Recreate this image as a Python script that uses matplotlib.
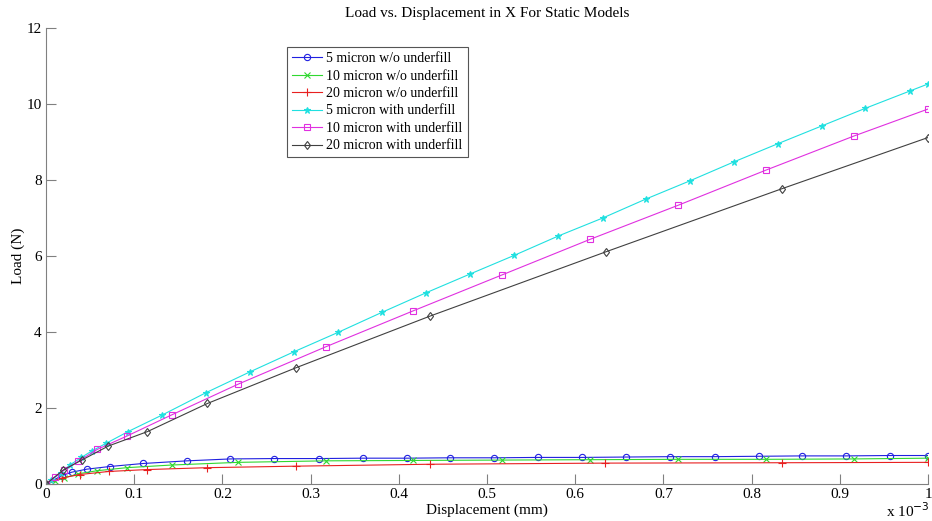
import matplotlib
matplotlib.use('Agg')
import matplotlib.pyplot as plt

plt.rcParams['font.family'] = ['Liberation Serif', 'DejaVu Serif']

# displacement values in units of 1e-3 mm, loads in N
x_5_wo = [0, 0.018, 0.029, 0.046, 0.072, 0.110, 0.160, 0.209, 0.258, 0.309, 0.359,
          0.409, 0.458, 0.508, 0.558, 0.608, 0.658, 0.708, 0.758, 0.808, 0.857,
          0.907, 0.957, 1.0]
load_5_wo = [0, 0.22, 0.31, 0.39, 0.46, 0.54, 0.61, 0.66, 0.67, 0.67, 0.68,
             0.68, 0.69, 0.69, 0.70, 0.70, 0.71, 0.72, 0.72, 0.73, 0.74,
             0.74, 0.75, 0.75]

x_10_wo = [0, 0.0102, 0.0208, 0.0367, 0.058, 0.0915, 0.1425, 0.218, 0.317, 0.4165,
           0.5166, 0.6168, 0.717, 0.816, 0.916, 1.0]
load_10_wo = [0, 0.08, 0.16, 0.27, 0.35, 0.43, 0.50, 0.57, 0.61, 0.62,
              0.63, 0.64, 0.65, 0.65, 0.66, 0.68]

x_20_wo = [0, 0.018, 0.0385, 0.071, 0.114, 0.183, 0.2835, 0.435, 0.634, 0.834, 1.0]
load_20_wo = [0, 0.16, 0.25, 0.33, 0.38, 0.43, 0.47, 0.52, 0.55, 0.56, 0.57]

x_5_with = [0, 0.006, 0.017, 0.027, 0.040, 0.052, 0.068, 0.093, 0.132, 0.181, 0.231,
            0.281, 0.331, 0.381, 0.4305, 0.481, 0.531, 0.581, 0.631, 0.680, 0.730,
            0.780, 0.830, 0.880, 0.929, 0.980, 1.0]
load_5_with = [0, 0.10, 0.30, 0.50, 0.70, 0.87, 1.07, 1.38, 1.82, 2.40, 2.95,
               3.48, 3.99, 4.52, 5.03, 5.53, 6.02, 6.53, 7.00, 7.50, 7.98,
               8.48, 8.96, 9.43, 9.89, 10.35, 10.53]

x_10_with = x_10_wo
load_10_with = [0, 0.19, 0.37, 0.60, 0.91, 1.26, 1.82, 2.63, 3.61, 4.56,
                5.50, 6.44, 7.34, 8.26, 9.16, 9.87]

x_20_with = [0, 0.0197, 0.0405, 0.0707, 0.115, 0.183, 0.2834, 0.4354, 0.6345, 0.834, 1.0]
load_20_with = [0, 0.37, 0.63, 1.00, 1.38, 2.12, 3.06, 4.42, 6.11, 7.77, 9.12]

fig = plt.figure(figsize=(9.32, 5.21), dpi=100)
ax = fig.add_axes([0.0494, 0.071, 0.9463, 0.875])

series = [
    (x_5_wo, load_5_wo, '#2020e0', 'o', 4.5, '5 micron w/o underfill'),
    (x_10_wo, load_10_wo, '#30d830', 'x', 4, '10 micron w/o underfill'),
    (x_20_wo, load_20_wo, '#e82020', '+', 6, '20 micron w/o underfill'),
    (x_5_with, load_5_with, '#20e0e0', '*', 5, '5 micron with underfill'),
    (x_10_with, load_10_with, '#e030e0', 's', 4.5, '10 micron with underfill'),
    (x_20_with, load_20_with, '#404040', 'd', 4.5, '20 micron with underfill'),
]
for xs, ys, c, m, size, lab in series:
    ax.plot(xs, ys, color=c, marker=m, lw=0.8, ms=size, mew=0.8,
            mfc=c if m in ('*', 'x', '+') else 'none', label=lab)

ax.set_xlim(0, 1)
ax.set_ylim(0, 12)
ax.set_xticks([0, 0.1, 0.2, 0.3, 0.4, 0.5, 0.6, 0.7, 0.8, 0.9, 1])
ax.set_xticklabels(['0', '0.1', '0.2', '0.3', '0.4', '0.5', '0.6', '0.7', '0.8', '0.9', '1'])
ax.set_yticks(range(0, 13, 2))

for side in ('top', 'right'):
    ax.spines[side].set_visible(False)
for side in ('left', 'bottom'):
    ax.spines[side].set_color('#808080')
ax.tick_params(direction='in', length=7, color='#808080', labelsize=11, pad=3)

ax.set_title('Load vs. Displacement in X For Static Models', fontsize=11, pad=8)
ax.set_xlabel('Displacement (mm)', fontsize=11, labelpad=2)
ax.set_ylabel('Load (N)', fontsize=11, labelpad=1)
fig.text(0.998, 0.038, r'x 10$^{-3}$', fontsize=11, ha='right', va='top')

leg = ax.legend(loc='upper left', bbox_to_anchor=(0.273, 0.958), fontsize=10,
                frameon=True, fancybox=False, edgecolor='#555555', framealpha=1,
                handlelength=2.2, handletextpad=0.3, borderpad=0.35,
                labelspacing=0.32, borderaxespad=0)
leg.get_frame().set_linewidth(0.8)

fig.savefig('out.png', dpi=100)
